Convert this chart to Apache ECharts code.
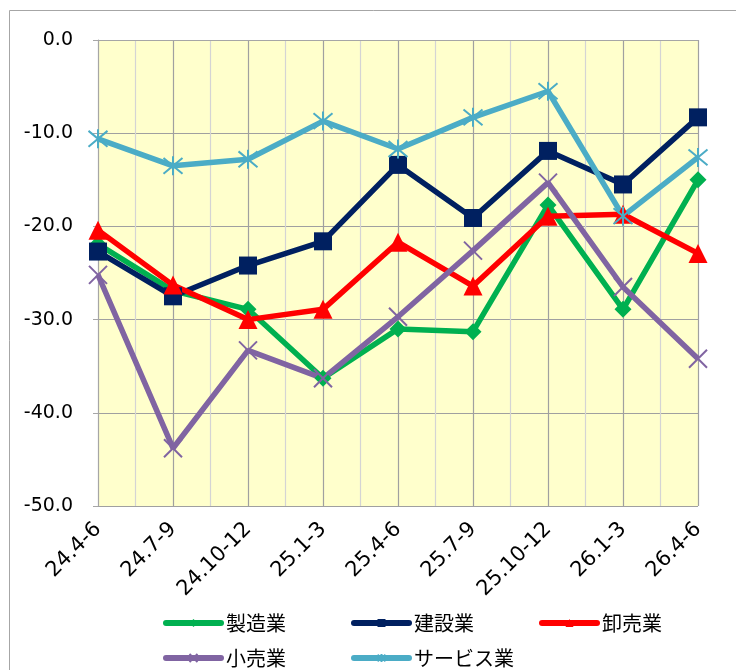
<!DOCTYPE html>
<html><head><meta charset="utf-8">
<script src="https://cdn.jsdelivr.net/npm/echarts@6/dist/echarts.min.js"></script>
<style>html,body{margin:0;padding:0;background:#fff}#c{width:736px;height:670px}</style>
</head><body><div id="c"></div>
<script>
const categories = ['24.4-6','24.7-9','24.10-12','25.1-3','25.4-6','25.7-9','25.10-12','26.1-3','26.4-6'];
const seizo   = [-21.9,-26.9,-28.9,-36.3,-31.0,-31.3,-17.7,-28.9,-15.0];
const kensetsu= [-22.7,-27.5,-24.2,-21.6,-13.4,-19.1,-11.9,-15.5,-8.3];
const oroshi  = [-20.4,-26.3,-30.0,-28.9,-21.7,-26.4,-18.9,-18.7,-22.9];
const kouri   = [-25.2,-43.8,-33.3,-36.3,-29.7,-22.6,-15.3,-26.5,-34.2];
const service = [-10.6,-13.5,-12.8,-8.7,-11.7,-8.3,-5.5,-18.9,-12.6];
const yTicks = [0,-10,-20,-30,-40,-50];

const FONT = '"Noto Sans CJK JP", "Noto Sans", sans-serif';
const NUMF = '"DejaVu Sans", sans-serif';
const chart = echarts.init(document.getElementById('c'), null, {renderer:'canvas'});
const crossPath = 'path://M0,0L10,10M10,0L0,10';
const starPath = 'path://M0,0L10,10M10,0L0,10M5,-1L5,11';
function mk(name, data, color, symbol, size, stroke) {
  const s = {
    name, type:'line', data, xAxisIndex:0, yAxisIndex:0,
    symbol, symbolSize:size, showSymbol:true,
    lineStyle:{color, width:5.5},
    itemStyle:{color},
    emphasis:{disabled:true}
  };
  if (stroke) { s.itemStyle = {color, borderColor:color, borderWidth:2}; }
  return s;
}
const legendCommon = {
  itemWidth:55, itemHeight:10, itemGap:10, padding:0,
  lineStyle:{width:6, cap:'round'},
  textStyle:{fontFamily:FONT, fontSize:20, color:'#000', width:115, lineHeight:24, padding:[0,0,0,0]},
  left:163, orient:'horizontal'
};
chart.setOption({
  animation:false,
  backgroundColor:'#fff',
  graphic:[{type:'rect', shape:{x:9.5,y:10.5,width:900,height:900}, style:{fill:'none', stroke:'#a6a6a6', lineWidth:1}, silent:true, z:-1}],
  grid:{left:98, right:38, top:40, bottom:164, show:true, backgroundColor:'#FFFFCC', borderWidth:0},
  legend:[
    Object.assign({}, legendCommon, {top:611, data:['製造業','建設業','卸売業']}),
    Object.assign({}, legendCommon, {top:646, data:['小売業','サービス業']})
  ],
  xAxis:[
    {type:'category', data:categories, boundaryGap:false,
     axisLine:{show:true, lineStyle:{color:'#a6a6a6', width:1}},
     axisTick:{show:false},
     splitLine:{show:false},
     axisLabel:{rotate:45, fontFamily:NUMF, fontSize:21, color:'#000', margin:20, interval:0}},
    {type:'value', min:0, max:8, interval:0.5, position:'top',
     axisLine:{show:false}, axisTick:{show:false}, axisLabel:{show:false},
     splitLine:{show:true, lineStyle:{color:['#a0a0a0','#d4d4d4'], width:1.2}}}
  ],
  yAxis:{type:'value', min:-50, max:0, interval:10,
     axisLine:{show:true, lineStyle:{color:'#a6a6a6'}},
     axisTick:{show:true, length:5, lineStyle:{color:'#a6a6a6'}},
     splitLine:{show:true, lineStyle:{color:'#a0a0a0', width:1.2}},
     axisLabel:{fontFamily:NUMF, fontSize:19, color:'#000', margin:25, formatter:v=>v.toFixed(1)}},
  series:[
    mk('製造業', seizo, '#00B050', 'diamond', 17),
    mk('建設業', kensetsu, '#002060', 'rect', 18),
    mk('卸売業', oroshi, '#FF0000', 'triangle', 19),
    mk('小売業', kouri, '#8064A2', crossPath, 18, true),
    mk('サービス業', service, '#4BACC6', starPath, 19, true)
  ]
});
</script></body></html>
